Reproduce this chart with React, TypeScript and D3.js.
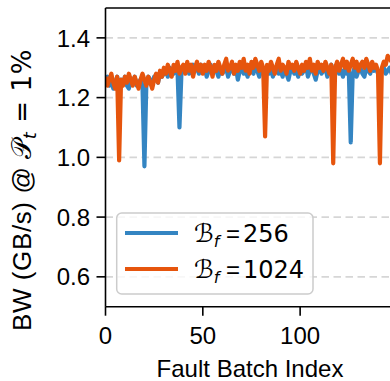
import * as d3 from 'd3';

const batchIndex = d3.range(150);

const bw256 = [
  1.25, 1.27, 1.24, 1.26, 1.23, 1.25, 1.27, 1.24, 1.26, 1.25,
  1.27, 1.24, 1.23, 1.26, 1.25, 1.27, 1.24, 1.25, 1.26, 1.24,
  0.97, 1.25, 1.27, 1.26, 1.24, 1.27, 1.26, 1.25, 1.28, 1.27,
  1.28, 1.29, 1.27, 1.3, 1.29, 1.28, 1.3, 1.29, 1.1, 1.28,
  1.3, 1.29, 1.31, 1.28, 1.3, 1.31, 1.29, 1.3, 1.28, 1.31,
  1.29, 1.3, 1.27, 1.29, 1.31, 1.28, 1.3, 1.29, 1.27, 1.3,
  1.28, 1.29, 1.3, 1.27, 1.29, 1.31, 1.28, 1.3, 1.26, 1.29,
  1.3, 1.28, 1.29, 1.27, 1.3, 1.29, 1.28, 1.31, 1.29, 1.27,
  1.3, 1.28, 1.29, 1.3, 1.28, 1.31, 1.27, 1.29, 1.3, 1.28,
  1.29, 1.27, 1.3, 1.28, 1.26, 1.29, 1.3, 1.28, 1.29, 1.27,
  1.3, 1.28, 1.29, 1.31, 1.27, 1.29, 1.3, 1.28, 1.26, 1.29,
  1.3, 1.28, 1.29, 1.3, 1.27, 1.29, 1.31, 1.28, 1.29, 1.3,
  1.28, 1.29, 1.27, 1.3, 1.28, 1.29, 1.05, 1.28, 1.3, 1.27,
  1.29, 1.3, 1.28, 1.27, 1.3, 1.29, 1.28, 1.31, 1.29, 1.3,
  1.28, 1.27, 1.29, 1.3, 1.28, 1.29, 1.3, 1.28, 1.29, 1.3,
];

const bw1024 = [
  1.27, 1.24, 1.26, 1.28, 1.25, 1.23, 1.27, 0.99, 1.26, 1.24,
  1.27, 1.25, 1.28, 1.26, 1.24, 1.27, 1.25, 1.23, 1.26, 1.28,
  1.26, 1.24, 1.27, 1.25, 1.23, 1.26, 1.28, 1.25, 1.29, 1.27,
  1.3, 1.28, 1.31, 1.29, 1.27, 1.31, 1.29, 1.32, 1.28, 1.3,
  1.31, 1.28, 1.32, 1.29, 1.31, 1.27, 1.3, 1.32, 1.29, 1.31,
  1.28, 1.31, 1.29, 1.32, 1.3, 1.27, 1.31, 1.29, 1.32, 1.3,
  1.28, 1.31, 1.33, 1.29, 1.3, 1.32, 1.28, 1.31, 1.29, 1.32,
  1.3, 1.33, 1.29, 1.31, 1.28, 1.32, 1.3, 1.33, 1.31, 1.29,
  1.32, 1.3, 1.07, 1.31, 1.29, 1.32, 1.3, 1.28, 1.31, 1.33,
  1.29, 1.31, 1.3, 1.28, 1.32, 1.3, 1.31, 1.29, 1.32, 1.3,
  1.28, 1.31, 1.29, 1.32, 1.3, 1.33, 1.29, 1.31, 1.28, 1.32,
  1.3, 1.31, 1.29, 1.32, 1.3, 1.28, 1.31, 0.98, 1.3, 1.32,
  1.29, 1.31, 1.33, 1.3, 1.32, 1.29, 1.31, 1.33, 1.3, 1.32,
  1.29, 1.31, 1.32, 1.3, 1.33, 1.31, 1.29, 1.32, 1.3, 1.31,
  1.29, 0.98, 1.3, 1.32, 1.31, 1.34, 1.33, 1.32, 1.31, 1.3,
];

const yTicks = [0.6, 0.8, 1.0, 1.2, 1.4];
const xTicks = [0, 50, 100];
const seriesLabels = ['256', '1024'];

const BLUE = '#3485c2';
const ORANGE = '#e6550d';
const FONT = '"Liberation Sans", Arial, sans-serif';
const MATH = '"DejaVu Sans", sans-serif';

export default function App() {
  const width = 390;
  const height = 381;
  const left = 105.5;
  const top = 8;
  const bottom = 306.7;
  const right = 395.5;

  const x = d3.scaleLinear().domain([0, 149]).range([left, right]);
  const y = d3.scaleLinear().domain([0.5, 1.5]).range([bottom, top]);

  const line = d3
    .line<number>()
    .x((_, i) => x(batchIndex[i]))
    .y((d) => y(d));

  const series = [
    { values: bw256, color: BLUE },
    { values: bw1024, color: ORANGE },
  ];

  return (
    <div style={{ position: 'absolute', left: 0, top: 0 }}>
      <svg width={width} height={height} style={{ display: 'block', background: '#fff' }}>
        <defs>
          <clipPath id='plot'>
            <rect x={left} y={top} width={right - left} height={bottom - top} />
          </clipPath>
        </defs>

        {/* grid */}
        {yTicks.map((t) => (
          <line
            key={t}
            x1={left}
            x2={right}
            y1={y(t)}
            y2={y(t)}
            stroke='#d6d6d6'
            strokeWidth={1.6}
            strokeDasharray='7.5 4.5'
          />
        ))}

        <g clipPath='url(#plot)'>
          {series.map((s) => (
            <path
              key={s.color}
              d={line(s.values) ?? ''}
              fill='none'
              stroke={s.color}
              strokeWidth={4.2}
              strokeLinejoin='round'
            />
          ))}
        </g>

        {/* spines */}
        <line x1={left} x2={left} y1={top} y2={bottom} stroke='#000' strokeWidth={1.6} />
        <line x1={left} x2={right} y1={bottom} y2={bottom} stroke='#000' strokeWidth={1.6} />
        <line x1={left} x2={right} y1={top} y2={top} stroke='#000' strokeWidth={1.6} />

        {/* y axis */}
        {yTicks.map((t) => (
          <g key={t}>
            <line x1={left - 9} x2={left} y1={y(t)} y2={y(t)} stroke='#000' strokeWidth={1.6} />
            <text
              x={90}
              y={y(t)}
              dy='0.36em'
              textAnchor='end'
              fontFamily={FONT}
              fontSize={24}
            >
              {t.toFixed(1)}
            </text>
          </g>
        ))}

        {/* x axis */}
        {xTicks.map((t) => (
          <g key={t}>
            <line x1={x(t)} x2={x(t)} y1={bottom} y2={bottom + 9} stroke='#000' strokeWidth={1.6} />
            <text
              x={x(t)}
              y={344}
              textAnchor='middle'
              fontFamily={FONT}
              fontSize={24}
            >
              {t}
            </text>
          </g>
        ))}

        <text x={250} y={377} textAnchor='middle' fontFamily={FONT} fontSize={24}>
          Fault Batch Index
        </text>

        <text
          transform='translate(31,190) rotate(-90)'
          textAnchor='middle'
          fontFamily={FONT}
          fontSize={26}
          letterSpacing={0.6}
        >
          BW (GB/s) @ <tspan fontFamily={MATH} fontSize={27}>𝒫</tspan>
          <tspan fontSize={18} dy={5} fontStyle='italic' fontFamily={MATH}>t</tspan>
          <tspan dy={-5} fontFamily={MATH}> = 1%</tspan>
        </text>

        {/* legend */}
        <rect
          x={116.7}
          y={213}
          width={196.3}
          height={81}
          rx={5}
          fill='#fff'
          fillOpacity={0.8}
          stroke='#cccccc'
          strokeWidth={1.5}
        />
        {series.map((s, i) => (
          <g key={s.color} transform={`translate(0,${233 + i * 36})`}>
            <line x1={125} x2={178} y1={0} y2={0} stroke={s.color} strokeWidth={4.2} />
            <text y={8.5} fontFamily={MATH} fontSize={24}>
              <tspan x={194} fontSize={25}>ℬ</tspan>
              <tspan fontSize={16} dy={5} fontStyle='italic'>f</tspan>
              <tspan x={226} dy={-5} fontFamily={FONT}>=</tspan>
              <tspan x={243}>{seriesLabels[i]}</tspan>
            </text>
          </g>
        ))}
      </svg>
    </div>
  );
}
